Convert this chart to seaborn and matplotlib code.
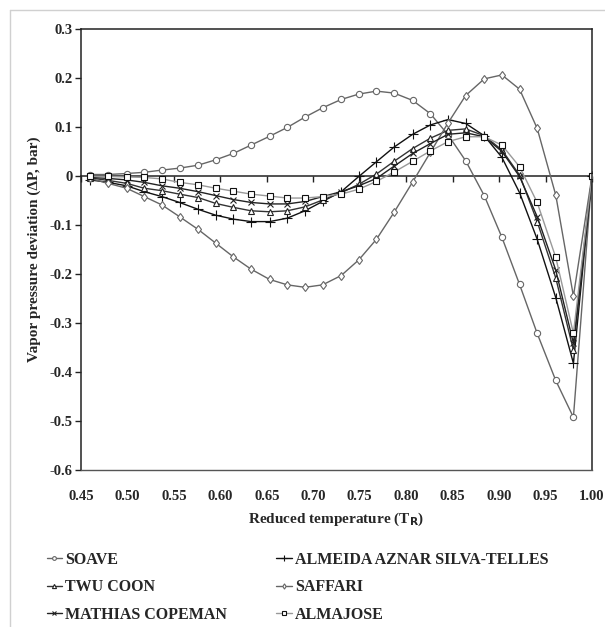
import numpy as np
import pandas as pd
import matplotlib
matplotlib.use('Agg')
import matplotlib.pyplot as plt
import seaborn as sns
from matplotlib.ticker import FuncFormatter

# Reduced temperature (same grid for every model)
tr = [0.460, 0.479, 0.499, 0.518, 0.537, 0.556, 0.576, 0.595, 0.614, 0.633,
      0.653, 0.672, 0.691, 0.710, 0.730, 0.749, 0.768, 0.787, 0.807, 0.826,
      0.845, 0.864, 0.884, 0.903, 0.922, 0.941, 0.961, 0.980, 1.000]

soave = [0.003, 0.003, 0.005, 0.0075, 0.012, 0.016, 0.022, 0.033, 0.046, 0.063,
         0.081, 0.099, 0.120, 0.139, 0.156, 0.167, 0.173, 0.169, 0.154, 0.127,
         0.084, 0.031, -0.040, -0.125, -0.221, -0.321, -0.417, -0.492, 0.0]
almeida = [-0.008, -0.013, -0.020, -0.032, -0.042, -0.054, -0.068, -0.080, -0.088, -0.093,
           -0.093, -0.086, -0.071, -0.052, -0.032, -0.001, 0.029, 0.059, 0.085, 0.104,
           0.115, 0.107, 0.082, 0.038, -0.034, -0.129, -0.248, -0.382, 0.0]
twu = [-0.004, -0.009, -0.015, -0.025, -0.030, -0.037, -0.044, -0.056, -0.064, -0.071,
       -0.073, -0.071, -0.063, -0.049, -0.034, -0.017, 0.004, 0.030, 0.056, 0.077,
       0.093, 0.096, 0.082, 0.053, 0.002, -0.093, -0.208, -0.355, 0.0]
saffari = [-0.005, -0.015, -0.025, -0.042, -0.059, -0.083, -0.109, -0.137, -0.165, -0.190,
           -0.211, -0.222, -0.227, -0.222, -0.203, -0.171, -0.129, -0.074, -0.012, 0.048,
           0.108, 0.164, 0.198, 0.206, 0.177, 0.097, -0.039, -0.245, 0.0]
mathias = [-0.003, -0.005, -0.008, -0.013, -0.020, -0.025, -0.032, -0.040, -0.048, -0.054,
           -0.057, -0.057, -0.052, -0.042, -0.032, -0.020, -0.005, 0.020, 0.046, 0.066,
           0.085, 0.088, 0.080, 0.050, -0.001, -0.083, -0.192, -0.341, 0.0]
almajose = [-0.001, -0.001, -0.002, -0.003, -0.006, -0.013, -0.018, -0.025, -0.031, -0.037,
            -0.041, -0.045, -0.045, -0.042, -0.037, -0.027, -0.011, 0.008, 0.030, 0.051,
            0.070, 0.080, 0.080, 0.063, 0.019, -0.054, -0.166, -0.321, 0.0]

names = ['SOAVE', 'ALMEIDA AZNAR SILVA-TELLES', 'TWU COON', 'SAFFARI',
         'MATHIAS COPEMAN', 'ALMAJOSE']
series = [soave, almeida, twu, saffari, mathias, almajose]

xticks = [0.45, 0.50, 0.55, 0.60, 0.65, 0.70, 0.75, 0.80, 0.85, 0.90, 0.95, 1.00]
yticks = [-0.6, -0.5, -0.4, -0.3, -0.2, -0.1, 0.0, 0.1, 0.2, 0.3]

# styles: line colour, marker, marker edge colour, marker size
styles = {
    'SOAVE': ('#666666', 'o', '#666666', 4.5),
    'ALMEIDA AZNAR SILVA-TELLES': ('#111111', '+', '#111111', 6.5),
    'TWU COON': ('#333333', '^', '#222222', 5),
    'SAFFARI': ('#666666', 'd', '#666666', 4.5),
    'MATHIAS COPEMAN': ('#222222', 'x', '#222222', 5),
    'ALMAJOSE': ('#999999', 's', '#111111', 5),
}

sns.set_style('white')
plt.rcParams['font.family'] = ['Liberation Serif', 'DejaVu Serif']
plt.rcParams['font.weight'] = 'bold'
plt.rcParams['axes.unicode_minus'] = False

fig = plt.figure(figsize=(6.05, 6.27), dpi=100)
ax = fig.add_axes([0.134, 0.250, 0.8445, 0.704])

for name, vals in zip(names, series):
    col, mk, mec, ms = styles[name]
    sns.lineplot(x=tr, y=vals, ax=ax, color=col, linewidth=1.0, label=name,
                 marker=mk, markersize=ms, markerfacecolor='white',
                 markeredgecolor=mec, markeredgewidth=0.8)

ax.set_xlim(0.45, 1.00)
ax.set_ylim(-0.6, 0.3)
ax.set_xticks(xticks)
ax.set_yticks(yticks)
ax.xaxis.set_major_formatter(FuncFormatter(lambda v, p: f'{v:.2f}'))
ax.yaxis.set_major_formatter(FuncFormatter(lambda v, p: '0' if abs(v) < 1e-9 else f'{v:.1f}'))
ax.tick_params(axis='x', length=0, pad=14, labelsize=10.5)
ax.tick_params(axis='y', direction='out', length=4, width=1, color='#222222',
               labelsize=10.5, pad=2, left=True)
for lab in ax.get_xticklabels() + ax.get_yticklabels():
    lab.set_fontweight('bold')

for side in ['left', 'right', 'top']:
    ax.spines[side].set_color('#222222')
    ax.spines[side].set_linewidth(1.1)
ax.spines['bottom'].set_color('#555555')
ax.spines['bottom'].set_linewidth(1.0)

# horizontal axis line with ticks crossing at zero
sec = ax.secondary_xaxis(0.6 / 0.9)
sec.set_xticks(xticks)
sec.tick_params(direction='in', length=4, width=1, color='#222222',
                labeltop=False, labelbottom=False)
sec.spines['top'].set_color('#222222')
sec.spines['top'].set_linewidth(1.1)

ax.set_xlabel('Reduced temperature (T$_\\mathbf{R}$)', fontsize=11,
              fontweight='bold', labelpad=6)
ax.set_ylabel('Vapor pressure deviation (ΔP, bar)', fontsize=11,
              fontweight='bold', labelpad=6)

handles, labels = ax.get_legend_handles_labels()
ax.get_legend().remove()
order = [0, 2, 4, 1, 3, 5]
fig.legend([handles[i] for i in order], [labels[i] for i in order],
           ncol=2, loc='upper left', bbox_to_anchor=(0.077, 0.120),
           frameon=False, handlelength=0.95, handletextpad=0.2,
           columnspacing=3.1, labelspacing=0.72, borderpad=0, borderaxespad=0,
           markerscale=0.6, prop={'weight': 'bold', 'size': 11.5})

# light chart-area border
fig.add_artist(plt.Line2D([0.017, 0.017], [0, 0.984], color='#d0d0d0', lw=1))
fig.add_artist(plt.Line2D([0.017, 1], [0.984, 0.984], color='#d0d0d0', lw=1))

fig.savefig('out.png', dpi=100)
